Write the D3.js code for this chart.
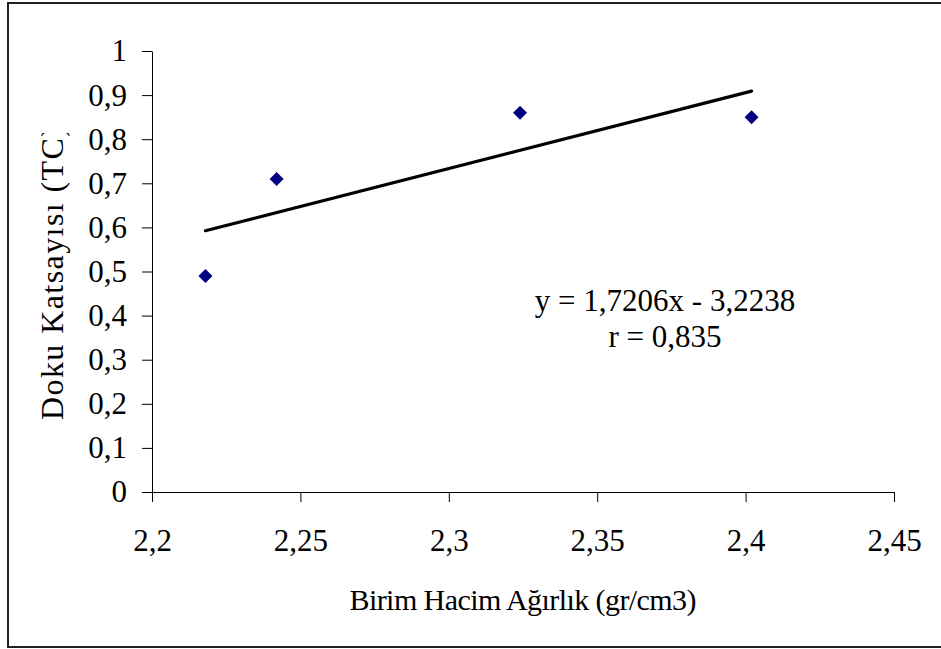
<!DOCTYPE html>
<html>
<head>
<meta charset="utf-8">
<script src="https://cdn.jsdelivr.net/npm/d3@7"></script>
<style>
  html, body { margin: 0; padding: 0; background: #fff; }
  svg { display: block; }
  text { font-family: "Liberation Serif", "Times New Roman", serif; fill: #000; }
</style>
</head>
<body>
<svg id="chart" width="941" height="649"></svg>
<script>
// Birim hacim ağırlık (gr/cm3) ve doku katsayısı ölçümleri
const birimHacimAgirlik = [2.218, 2.242, 2.324, 2.402];
const dokuKatsayisi = [0.49, 0.71, 0.86, 0.85];

// Doğrusal regresyon katsayıları
const egim = 1.7206;
const kesim = -3.2238;
const korelasyon = 0.835;

const xTicks = [2.2, 2.25, 2.3, 2.35, 2.4, 2.45];
const yTicks = [0, 0.1, 0.2, 0.3, 0.4, 0.5, 0.6, 0.7, 0.8, 0.9, 1];

const FONT = "'Liberation Serif', 'Times New Roman', serif";
const svg = d3.select("#chart");
const locale = d3.formatLocale({ decimal: ",", thousands: ".", grouping: [3], currency: ["", ""] });
const fmt = v => locale.format("~g")(v);

const x = d3.scaleLinear().domain([2.2, 2.45]).range([152, 894]);
const y = d3.scaleLinear().domain([0, 1]).range([492, 51]);

// Dış çerçeve
svg.append("rect")
  .attr("x", 8).attr("y", 3)
  .attr("width", 960).attr("height", 644)
  .attr("fill", "none").attr("stroke", "#222").attr("stroke-width", 2);

// Eksenler
const xAxis = svg.append("g")
  .attr("transform", `translate(0,${y(0)})`)
  .call(d3.axisBottom(x).tickValues(xTicks).tickFormat(fmt).tickSize(10).tickSizeOuter(0).tickPadding(27));
const yAxis = svg.append("g")
  .attr("transform", `translate(${x(2.2)},0)`)
  .call(d3.axisLeft(y).tickValues(yTicks).tickFormat(fmt).tickSize(10).tickSizeOuter(0).tickPadding(15));

[xAxis, yAxis].forEach(g => {
  g.attr("font-family", FONT);
  g.selectAll("path, line").attr("stroke", "#000");
  g.selectAll("text").style("font-size", "31px").style("font-family", FONT);
});

// Regresyon doğrusu
const xMin = d3.min(birimHacimAgirlik), xMax = d3.max(birimHacimAgirlik);
svg.append("line")
  .attr("x1", x(xMin)).attr("y1", y(egim * xMin + kesim))
  .attr("x2", x(xMax)).attr("y2", y(egim * xMax + kesim))
  .attr("stroke", "#000").attr("stroke-width", 3.2).attr("stroke-linecap", "round");

// Ölçüm noktaları (elmas işaretler)
svg.append("g").selectAll("path")
  .data(birimHacimAgirlik.map((v, i) => [v, dokuKatsayisi[i]]))
  .join("path")
  .attr("transform", d => `translate(${x(d[0])},${y(d[1])})`)
  .attr("d", "M0,-7L7,0L0,7L-7,0Z")
  .attr("fill", "#000080");

// Denklem ve korelasyon
const fmt4 = v => locale.format(".4f")(v);
svg.append("text")
  .attr("x", 665).attr("y", 311)
  .attr("text-anchor", "middle").style("font-size", "31px").style("font-family", FONT)
  .text(`y = ${fmt4(egim)}x - ${fmt4(-kesim)}`);
svg.append("text")
  .attr("x", 665).attr("y", 347)
  .attr("text-anchor", "middle").style("font-size", "31px").style("font-family", FONT)
  .text(`r = ${locale.format(".3f")(korelasyon)}`);

// Eksen başlıkları
svg.append("text")
  .attr("x", 523).attr("y", 610)
  .attr("text-anchor", "middle").style("font-size", "30px").style("font-family", FONT)
  .attr("textLength", 347).attr("lengthAdjust", "spacing")
  .text("Birim Hacim Ağırlık (gr/cm3)");

svg.append("clipPath").attr("id", "ykirp")
  .append("rect").attr("x", 0).attr("y", 133).attr("width", 120).attr("height", 400);
svg.append("g").attr("clip-path", "url(#ykirp)")
  .append("text")
  .attr("transform", "translate(62.5,420) rotate(-90)")
  .attr("text-anchor", "start").style("font-size", "32px").style("font-family", FONT)
  .attr("textLength", 294).attr("lengthAdjust", "spacing")
  .text("Doku Katsayısı (TC)");
</script>
</body>
</html>
